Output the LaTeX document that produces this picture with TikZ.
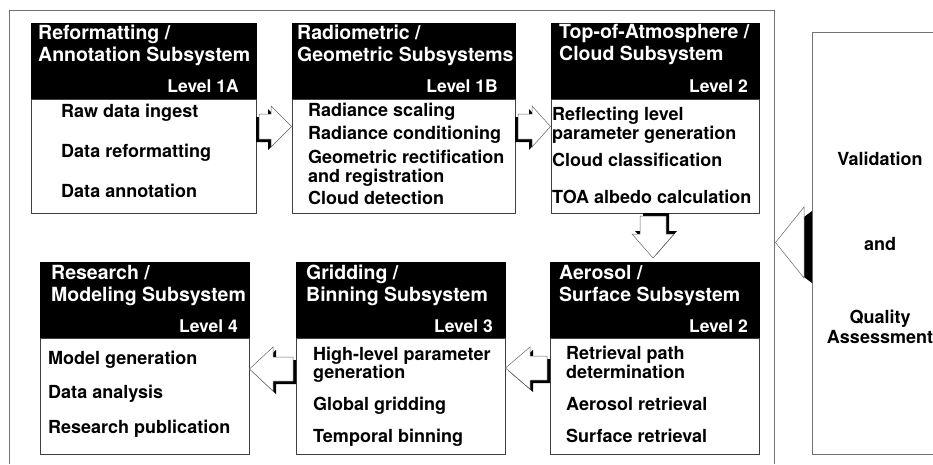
\documentclass[tikz,border=0pt]{standalone}
\usepackage{fontspec}
\setmainfont{TeX Gyre Heros}
\begin{document}
\begin{tikzpicture}[x=1pt,y=-1pt,
  frame/.style={draw=black!55, line width=0.7pt},
  hdr/.style={fill=black, draw=black, line width=0.7pt, inner sep=0pt, outer sep=0pt, anchor=north west},
  bodybox/.style={fill=white, draw=black!75, line width=0.7pt, inner sep=0pt, outer sep=0pt, anchor=north west},
  ht/.style={text=white, font=\fontsize{19.5pt}{21pt}\selectfont\bfseries, inner sep=0pt, anchor=base west},
  lv/.style={text=white, font=\fontsize{17.5pt}{20pt}\selectfont\bfseries, inner sep=0pt, anchor=base east},
  bt/.style={text=black, font=\fontsize{18pt}{20pt}\selectfont\bfseries, inner sep=0pt, anchor=base west},
  vt/.style={text=black, font=\fontsize{18pt}{20pt}\selectfont\bfseries, inner sep=0pt, anchor=base},
  arrowbody/.style={fill=white, draw=black!60, line width=0.5pt, line join=miter},
  arrowshade/.style={fill=black},
]
\useasboundingbox (0,0) rectangle (933,464);

% outer frame and validation box
\draw[frame] (9,464) -- (9,10) -- (774,10) -- (774,464);
\draw[frame] (933,32) -- (812,32) -- (812,454) -- (933,454);

% ---------- boxes ----------
\node[hdr, minimum width=225pt, minimum height=76pt] (h1) at (31,23) {};
\node[bodybox, minimum width=225pt, minimum height=114pt] (b1) at (31,99) {};
\node[hdr, minimum width=223pt, minimum height=76pt] (h2) at (292,23) {};
\node[bodybox, minimum width=223pt, minimum height=114pt] (b2) at (292,99) {};
\node[hdr, minimum width=208pt, minimum height=76pt] (h3) at (551,23) {};
\node[bodybox, minimum width=208pt, minimum height=114pt] (b3) at (551,99) {};

\node[hdr, minimum width=209pt, minimum height=76pt] (h4) at (40,262) {};
\node[bodybox, minimum width=209pt, minimum height=116pt] (b4) at (40,338) {};
\node[hdr, minimum width=209pt, minimum height=76pt] (h5) at (296,262) {};
\node[bodybox, minimum width=209pt, minimum height=116pt] (b5) at (296,338) {};
\node[hdr, minimum width=209pt, minimum height=76pt] (h6) at (550,262) {};
\node[bodybox, minimum width=209pt, minimum height=116pt] (b6) at (550,338) {};

% ---------- block arrows ----------
% 1A -> 1B (right)
\fill[arrowshade, shift={(-3,3)}] (259,114) -- (271,114) -- (271,106) -- (291.5,126.5) -- (271,147) -- (271,139) -- (259,139) -- cycle;
\draw[arrowbody] (259,114) -- (271,114) -- (271,106) -- (291.5,126.5) -- (271,147) -- (271,139) -- (259,139) -- cycle;
% 1B -> TOA (right)
\fill[arrowshade, shift={(-3,3)}] (518,114) -- (532,114) -- (532,106) -- (550.5,126.5) -- (532,147) -- (532,139) -- (518,139) -- cycle;
\draw[arrowbody] (518,114) -- (532,114) -- (532,106) -- (550.5,126.5) -- (532,147) -- (532,139) -- (518,139) -- cycle;
% TOA -> Aerosol (down)
\fill[arrowshade, shift={(3,-3)}] (640,216) -- (666,216) -- (666,234) -- (674,234) -- (653,258) -- (632,234) -- (640,234) -- cycle;
\draw[arrowbody] (640,216) -- (666,216) -- (666,234) -- (674,234) -- (653,258) -- (632,234) -- (640,234) -- cycle;
% Aerosol -> Gridding (left)
\fill[arrowshade, shift={(3,3)}] (547,356) -- (530,356) -- (530,347) -- (505.5,368) -- (530,389) -- (530,380) -- (547,380) -- cycle;
\draw[arrowbody] (547,356) -- (530,356) -- (530,347) -- (505.5,368) -- (530,389) -- (530,380) -- (547,380) -- cycle;
% Gridding -> Research (left)
\fill[arrowshade, shift={(3,3)}] (293,357) -- (273,357) -- (273,347) -- (249.5,369) -- (273,391) -- (273,381) -- (293,381) -- cycle;
\draw[arrowbody] (293,357) -- (273,357) -- (273,347) -- (249.5,369) -- (273,391) -- (273,381) -- (293,381) -- cycle;
% Validation -> frame (left)
\fill[arrowshade] (804,217) -- (812,211) -- (812,283) -- (804,277) -- cycle;
\draw[arrowbody] (804,207) -- (775.5,242.5) -- (804,278) -- cycle;

% ---------- header texts ----------
\node[ht] (t1a) at (38,39) {Reformatting /};
\node[ht] (t1b) at (38,61) {Annotation Subsystem};
\node[lv] (l1) at (239,92) {Level 1A};
\node[ht] (t2a) at (297,39) {Radiometric /};
\node[ht] (t2b) at (297,61) {Geometric Subsystems};
\node[lv] (l2) at (498,92) {Level 1B};
\node[ht] (t3a) at (559,38) {Top-of-Atmosphere /};
\node[ht] (t3b) at (559,60) {Cloud Subsystem};
\node[lv] (l3) at (748,92) {Level 2};

\node[ht] (t4a) at (51,279) {Research /};
\node[ht] (t4b) at (51,301) {Modeling Subsystem};
\node[lv] (l4) at (238,332) {Level 4};
\node[ht] (t5a) at (306,279) {Gridding /};
\node[ht] (t5b) at (306,301) {Binning Subsystem};
\node[lv] (l5) at (493,332) {Level 3};
\node[ht] (t6a) at (559,279) {Aerosol /};
\node[ht] (t6b) at (559,301) {Surface Subsystem};
\node[lv] (l6) at (748,332) {Level 2};

% ---------- body texts ----------
\node[bt] (s1a) at (61,117) {Raw data ingest};
\node[bt] (s1b) at (61,157) {Data reformatting};
\node[bt] (s1c) at (61,197) {Data annotation};

\node[bt] (s2a) at (308,116) {Radiance scaling};
\node[bt] (s2b) at (308,139) {Radiance conditioning};
\node[bt] (s2c) at (308,163) {Geometric rectification};
\node[bt] (s2d) at (308,182) {and registration};
\node[bt] (s2e) at (308,204) {Cloud detection};

\node[bt] (s3a) at (552,120) {Reflecting level};
\node[bt] (s3b) at (552,139) {parameter generation};
\node[bt] (s3c) at (552,166) {Cloud classification};
\node[bt] (s3d) at (552,203) {TOA albedo calculation};

\node[bt] (s4a) at (48,364) {Model generation};
\node[bt] (s4b) at (48,398) {Data analysis};
\node[bt] (s4c) at (48,433) {Research publication};

\node[bt] (s5a) at (313,360) {High-level parameter};
\node[bt] (s5b) at (313,378) {generation};
\node[bt] (s5c) at (313,410) {Global gridding};
\node[bt] (s5d) at (313,442) {Temporal binning};

\node[bt] (s6a) at (566,359) {Retrieval path};
\node[bt] (s6b) at (566,378) {determination};
\node[bt] (s6c) at (566,410) {Aerosol retrieval};
\node[bt] (s6d) at (566,442) {Surface retrieval};

% ---------- validation texts ----------
\node[vt] (v1) at (880,165) {Validation};
\node[vt] (v2) at (880,250) {and};
\node[vt] (v3) at (880,323) {Quality};
\node[vt] (v4) at (880,343) {Assessment};
\end{tikzpicture}
\end{document}
